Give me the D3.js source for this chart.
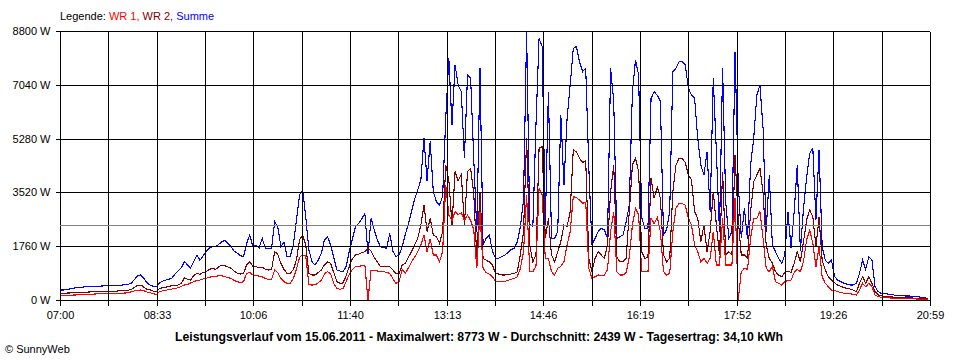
<!DOCTYPE html>
<html><head><meta charset="utf-8">
<script src="https://cdn.jsdelivr.net/npm/d3@7"></script>
<style>
html,body{margin:0;padding:0;background:#fff;}
svg{display:block;font-family:"Liberation Sans",Arial,sans-serif;}
</style></head>
<body><svg id="c" width="960" height="360"></svg>
<script>
// time labels (every second grid line), minutes since 07:00 run 0..839
const timeLabels = ["07:00","08:33","10:06","11:40","13:13","14:46","16:19","17:52","19:26","20:59"];
const yTicks = [0, 1760, 3520, 5280, 7040, 8800];
const average = 2439;
const stepMinutes = 3;
// Summe (blue)
const summe = [
327,327,340,360,380,400,410,420,430,435,
440,445,450,455,460,465,470,475,480,480,
490,500,510,560,680,800,818,700,560,490,
450,430,560,620,650,680,720,850,960,1050,
1260,1150,1050,1250,1470,1300,1450,1580,1700,1745,
1745,1820,1900,1960,1850,1745,1600,1530,1450,1420,
1853,2126,1745,1800,1700,2017,1700,1690,1700,2563,
2400,1750,1900,1417,1430,1800,2617,3435,3600,2725,
1640,1253,1143,1300,1527,1963,2072,1800,1400,981,
950,927,1100,1600,2000,2399,2500,2650,2835,1500,
2672,2300,1963,1744,1720,1690,2181,1600,1417,1470,
1744,2150,2500,2890,3300,3600,3925,5290,3900,5200,
3543,3216,3107,3400,5944,7900,5725,7687,7030,6814,
4635,7360,7250,4635,2235,7580,1800,2017,2126,1600,
1363,1363,1420,1472,1550,1650,1690,1900,2400,3270,
8773,2500,2400,5725,8560,8300,2453,6814,2017,2017,
2235,6050,3760,5944,7030,8232,8300,7796,7470,7580,
4307,1800,2017,2235,2345,2290,2017,7580,6500,2017,
2072,2126,2563,3107,6814,7850,7360,2700,2345,2345,
6596,6814,6700,6500,2126,2300,2900,7470,7580,7796,
7796,7687,6923,6700,6596,5290,4416,4090,4850,2890,
7250,4850,2235,7580,3200,2017,2235,8122,3900,2017,
3000,2000,4416,5290,6700,7030,5617,2235,4090,1800,
1580,1363,1200,1472,2890,1700,2890,4416,1600,3000,
4000,4800,4962,2617,4907,1744,1308,1200,1300,763,
654,600,545,520,490,490,545,872,1308,1000,
1417,1308,436,272,218,218,196,180,164,150,
140,140,130,130,120,110,100,90,70,55];
// WR 2 (dark red)
const wr2 = [
218,218,225,230,240,250,250,255,260,260,
265,270,270,275,280,280,285,290,290,300,
300,310,320,350,420,480,490,420,350,330,
290,272,380,400,420,440,470,480,490,540,
720,680,650,800,870,840,900,925,1000,1035,
1000,1080,1145,1120,1080,1035,950,880,850,872,
1145,1255,1100,1090,1060,1080,1000,981,990,1580,
1500,1200,1000,872,872,1000,1308,1963,2126,1800,
872,818,818,900,981,1150,1253,1200,900,600,
545,560,800,1100,1350,1472,1500,1550,1580,1690,
1600,1400,1250,1090,1090,1090,1090,981,872,860,
1145,1200,1400,1580,1800,2017,2453,3107,2235,2672,
2126,2072,1853,2235,4416,3925,2453,4200,3900,4100,
2453,4200,4300,3500,1363,3543,1363,1300,1250,1145,
872,850,818,818,830,850,872,920,1500,2235,
5290,1800,1253,1472,4962,5015,2017,2672,1472,1253,
1580,1907,2453,2400,2890,4907,4850,4635,4500,4550,
1363,927,1363,1580,1472,1363,1800,3543,4416,1400,
1253,1253,1363,2890,4416,4635,4200,1580,1363,1400,
3980,3325,3700,3325,1472,1253,1363,3543,4416,4635,
4635,4500,4090,3925,2890,2672,1907,2453,1580,2235,
3543,2453,1472,4200,1472,1580,1472,4743,2672,1472,
1472,1363,2890,3870,4090,4307,3500,1800,1363,1200,
927,818,763,900,950,900,1200,1580,1250,1907,
2617,2945,2726,1744,2700,1308,981,763,654,560,
490,450,400,382,360,327,272,545,763,545,
763,545,272,164,140,120,110,100,95,90,
85,80,75,70,65,60,55,50,45,40];
// WR 1 (red)
const wr1 = [
142,142,150,150,160,165,170,175,180,185,
190,195,200,200,205,210,210,215,218,220,
220,230,240,270,300,320,327,300,260,240,
200,185,272,300,320,340,360,380,400,450,
490,500,560,600,640,650,690,710,750,760,
780,790,790,760,740,700,640,600,567,600,
872,900,820,800,780,760,700,676,680,981,
900,700,600,545,545,700,1000,1400,1472,1450,
500,490,500,560,650,850,927,860,545,380,
349,380,600,850,1000,1090,1100,1120,1145,0,
981,960,950,930,927,900,870,700,545,600,
1000,872,1050,1253,1400,1580,1800,2126,1580,2000,
1472,1472,1253,1580,3760,2780,2600,2890,2800,2850,
2600,2780,2600,2300,1036,2890,1036,900,850,763,
600,600,600,610,640,680,700,763,1036,1580,
3435,927,927,1100,3652,3435,1363,1363,927,818,
1036,1100,1253,1800,2235,3380,3350,3270,3160,3200,
1036,709,760,818,800,818,1000,2235,2890,927,
818,818,900,1400,2453,2999,2780,927,927,927,
2672,2500,2700,2235,927,818,870,2235,3000,3162,
3162,3100,2672,2453,1800,1580,1253,1363,1200,1363,
2235,1145,1145,2672,1145,1145,1145,3325,0,927,
1036,1000,2017,2672,2672,2890,2017,1036,927,1100,
600,545,490,600,640,650,900,1000,927,1253,
1963,2290,1853,1090,1744,763,545,436,327,310,
272,250,218,210,200,190,164,327,545,436,
545,436,164,109,90,80,70,65,60,55,
50,50,45,45,40,35,30,25,20,15];

const svg = d3.select("#c");
const totalMin = 839;
const x = d3.scaleLinear().domain([0, totalMin]).range([60, 930]);
const y = d3.scaleLinear().domain([0, 8800]).range([300, 31]);
const gridT = d3.range(19).map(k => k * totalMin / 18);
const px = v => Math.round(v) + 0.5;

// legend
const leg = svg.append("text").attr("x", 60).attr("y", 20).attr("font-size", 11);
leg.append("tspan").attr("fill", "#000").text("Legende: ");
leg.append("tspan").attr("fill", "#ff0000").text("WR 1, ");
leg.append("tspan").attr("fill", "#800000").text("WR 2, ");
leg.append("tspan").attr("fill", "#0000ff").text("Summe");

// data lines
const line = arr => d3.line().x((d, i) => x(i * stepMinutes)).y(d => y(d)).curve(d3.curveLinear)(arr);
[[summe, "#0000ff"], [wr2, "#800000"], [wr1, "#ff0000"]].forEach(([arr, col]) => {
  svg.append("path").attr("d", line(arr)).attr("fill", "none").attr("stroke", col)
    .attr("stroke-width", 1.1).attr("stroke-linejoin", "miter").attr("shape-rendering", "crispEdges");
});

// grid
const g = svg.append("g").attr("shape-rendering", "crispEdges");
g.selectAll("line.h").data(yTicks).join("line")
  .attr("x1", 60).attr("x2", 930).attr("y1", d => px(y(d))).attr("y2", d => px(y(d)))
  .attr("stroke", "#000");
g.selectAll("line.v").data(gridT).join("line")
  .attr("y1", px(y(8800))).attr("y2", px(y(0))).attr("x1", d => px(x(d))).attr("x2", d => px(x(d)))
  .attr("stroke", "#000");
g.append("line").attr("x1", 60).attr("x2", 930).attr("y1", px(y(average))).attr("y2", px(y(average)))
  .attr("stroke", "#808080");

// axes
const ya = d3.axisLeft(y).tickValues(yTicks).tickFormat(d => d + " W").tickSize(5).tickPadding(5);
const yg = svg.append("g").attr("transform", "translate(60.5,0)").call(ya);
yg.select(".domain").remove();
yg.selectAll(".tick").attr("transform", d => `translate(0,${px(y(d))})`);
yg.selectAll("line").attr("stroke", "#000").attr("shape-rendering", "crispEdges");
yg.selectAll("text").attr("font-size", 11).attr("font-family", "Liberation Sans, Arial, sans-serif").attr("fill", "#000");

const xa = d3.axisBottom(x).tickValues(gridT).tickFormat((d, i) => i % 2 === 0 ? timeLabels[i / 2] : "").tickSize(5).tickPadding(6);
const xg = svg.append("g").attr("transform", "translate(0,300.5)").call(xa);
xg.select(".domain").remove();
xg.selectAll(".tick").attr("transform", d => `translate(${px(x(d))},0)`);
xg.selectAll("line").attr("stroke", "#000").attr("shape-rendering", "crispEdges");
xg.selectAll("text").attr("font-size", 11).attr("font-family", "Liberation Sans, Arial, sans-serif").attr("fill", "#000");

// title
svg.append("text").attr("x", 479).attr("y", 341).attr("text-anchor", "middle")
  .attr("font-size", 12).attr("font-weight", "bold").attr("textLength", 608).attr("lengthAdjust", "spacingAndGlyphs")
  .text("Leistungsverlauf vom 15.06.2011 - Maximalwert: 8773 W - Durchschnitt: 2439 W - Tagesertrag: 34,10 kWh");
svg.append("text").attr("x", 5).attr("y", 353).attr("font-size", 11).text("© SunnyWeb");
</script></body></html>
